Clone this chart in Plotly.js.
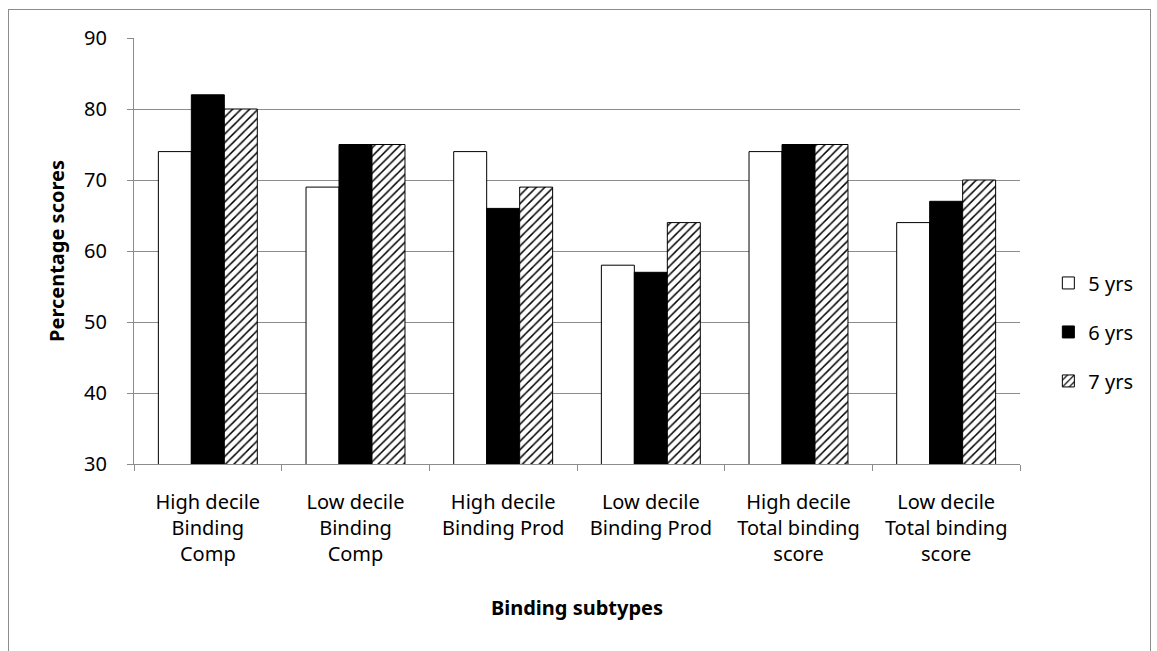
<!DOCTYPE html>
<html>
<head>
<meta charset="utf-8">
<script src="https://cdn.plot.ly/plotly-3.0.1.min.js"></script>
<style>
  html, body { margin: 0; padding: 0; background: #fff; overflow: hidden; }
  #wrap { position: relative; width: 1157px; height: 651px; }
  #chart { position: absolute; left: 0; top: 0; width: 1157px; height: 651px; }
  #frame { position: absolute; left: 8px; top: 9px; width: 1141px; height: 660px; border: 1px solid #8c8c8c; pointer-events: none; }
</style>
</head>
<body>
<div id="wrap">
  <div id="chart"></div>
  <div id="frame"></div>
</div>
<script>
const categories = [
  "High decile<br>Binding<br>Comp",
  "Low decile<br>Binding<br>Comp",
  "High decile<br>Binding Prod",
  "Low decile<br>Binding Prod",
  "High decile<br>Total binding<br>score",
  "Low decile<br>Total binding<br>score"
];
const seriesNames = ["5 yrs", "6 yrs", "7 yrs"];
const yrs5 = [74, 69, 74, 58, 74, 64];
const yrs6 = [82, 75, 66, 57, 75, 67];
const yrs7 = [80, 75, 69, 64, 75, 70];
const yTicks = [30, 40, 50, 60, 70, 80, 90];

const FONT = "Noto Sans, Open Sans, sans-serif";
const FS = 20;
const line = {color: "#000", width: 1};

const traces = [
  {type: "bar", name: seriesNames[0], x: categories, y: yrs5, legendgroup: "a",
   marker: {color: "#ffffff", line: line}},
  {type: "bar", name: seriesNames[1], x: categories, y: yrs6, legendgroup: "b",
   marker: {color: "#000000", line: line}},
  {type: "bar", name: seriesNames[2], x: categories, y: yrs7, legendgroup: "c",
   marker: {color: "#ffffff", line: line,
            pattern: {shape: "/", fgcolor: "#000", bgcolor: "#fff", size: 6, solidity: 0.25}}}
];

const layout = {
  width: 1157, height: 651,
  margin: {l: 134, r: 137, t: 38, b: 187},
  paper_bgcolor: "#fff", plot_bgcolor: "#fff",
  font: {family: FONT, size: FS, color: "#000"},
  barmode: "group", bargap: 0.33, bargroupgap: 0,
  showlegend: true,
  legend: {x: 1.032, xanchor: "left", y: 0.31, yanchor: "middle",
           font: {family: FONT, size: FS}, tracegroupgap: 20, traceorder: "grouped",
           itemwidth: 30},
  xaxis: {
    type: "category", tickson: "boundaries", ticks: "outside", ticklen: 6,
    tickcolor: "#8c8c8c", showline: true, linecolor: "#8c8c8c", linewidth: 1,
    showgrid: false, tickfont: {family: FONT, size: FS}, ticklabelstandoff: 20,
    title: {text: "<b>Binding subtypes</b>", font: {family: FONT, size: FS}, standoff: 34}
  },
  yaxis: {
    range: [30, 90], tickvals: yTicks, ticks: "outside", ticklen: 6,
    tickcolor: "#8c8c8c", showline: true, linecolor: "#8c8c8c", linewidth: 1,
    showgrid: true, gridcolor: "#8c8c8c", gridwidth: 1, zeroline: false,
    tickfont: {family: FONT, size: FS}, ticklabelstandoff: 16,
    title: {text: "<b>Percentage scores</b>", font: {family: FONT, size: FS}, standoff: 14}
  }
};

Plotly.newPlot("chart", traces, layout, {displayModeBar: false, staticPlot: true});
</script>
</body>
</html>
